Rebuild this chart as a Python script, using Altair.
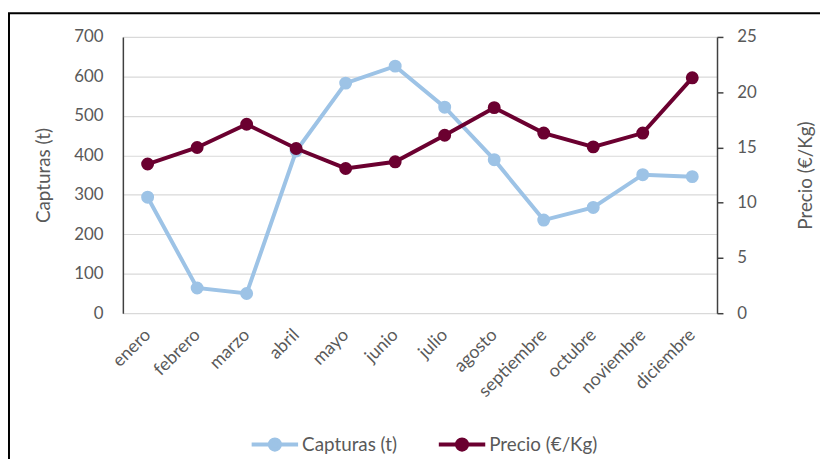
import altair as alt
import pandas as pd

meses = ["enero", "febrero", "marzo", "abril", "mayo", "junio", "julio",
         "agosto", "septiembre", "octubre", "noviembre", "diciembre"]
capturas = [294, 64, 50, 411, 583, 626, 522, 389, 236, 268, 351, 346]
precio = [13.5, 15.0, 17.1, 14.9, 13.1, 13.7, 16.1, 18.6, 16.3, 15.05, 16.3, 21.3]
series = ["Capturas (t)", "Precio (€/Kg)"]
colores = ["#9DC3E6", "#6B0030"]
ticks_izq = [0, 100, 200, 300, 400, 500, 600, 700]
ticks_der = [0, 5, 10, 15, 20, 25]

df_c = pd.DataFrame({"mes": meses, "valor": capturas, "serie": series[0]})
df_p = pd.DataFrame({"mes": meses, "valor": precio, "serie": series[1]})
df_b = pd.DataFrame({"k": [0]})

FONT = "Lato"
GRAY = "#595959"

color = alt.Color("serie:N", scale=alt.Scale(domain=series, range=colores),
                  legend=alt.Legend(
                      title=None, orient="none", direction="horizontal",
                      legendX=128, legendY=386,
                      symbolType="M-1,0L1,0M0.22,0A0.22,0.22 0 1,1 -0.22,0A0.22,0.22 0 1,1 0.22,0Z",
                      symbolSize=2200, symbolStrokeWidth=4, symbolOpacity=1,
                      labelFontSize=19, labelFont=FONT, labelColor=GRAY,
                      labelOffset=2, columnPadding=34))

x = alt.X("mes:N", sort=meses, title=None,
          axis=alt.Axis(labelAngle=315, labelAlign="right", labelBaseline="middle",
                        labelFontSize=18, labelFont=FONT,
                        labelColor=GRAY, domain=False, ticks=False, grid=False,
                        labelPadding=19))

border = alt.Chart(df_b).mark_rect(fill=None, stroke="#000000", strokeWidth=2,
                                   clip=False).encode(
    x=alt.value(-115), x2=alt.value(760), y=alt.value(-24), y2=alt.value(600))

line_c = alt.Chart(df_c).mark_line(
    strokeWidth=4,
    point=alt.OverlayMarkDef(filled=True, size=170, opacity=1)).encode(
    x=x,
    y=alt.Y("valor:Q", title="Capturas (t)",
            scale=alt.Scale(domain=[0, 700], nice=False),
            axis=alt.Axis(values=ticks_izq, grid=True, gridColor="#D9D9D9",
                          gridWidth=1.2, domain=True, domainColor="#404040",
                          domainWidth=1.5, ticks=False, labelPadding=20,
                          labelFontSize=17, labelFont=FONT, labelColor=GRAY,
                          titleFontSize=19, titleFont=FONT, titleColor=GRAY,
                          titleFontWeight="normal", titlePadding=21)),
    color=color)

line_p = alt.Chart(df_p).mark_line(
    strokeWidth=4,
    point=alt.OverlayMarkDef(filled=True, size=170, opacity=1)).encode(
    x=x,
    y=alt.Y("valor:Q", title="Precio (€/Kg)",
            scale=alt.Scale(domain=[0, 25], nice=False),
            axis=alt.Axis(orient="right", values=ticks_der, grid=False,
                          domain=True, domainColor="#404040", domainWidth=1.5,
                          ticks=True, tickColor="#404040", tickWidth=1.5,
                          tickSize=6, labelPadding=14,
                          labelFontSize=17, labelFont=FONT, labelColor=GRAY,
                          titleFontSize=19, titleFont=FONT, titleColor=GRAY,
                          titleFontWeight="normal", titleAngle=270,
                          titlePadding=60)),
    color=color)

chart = alt.layer(border, line_c, line_p).resolve_scale(y="independent").properties(
    width=600, height=279,
    autosize=alt.AutoSizeParams(type="none"),
    padding={"left": 116, "top": 27, "right": 104, "bottom": 145},
    background="white",
).configure_view(strokeWidth=0)

chart.save("out.html", embed_options={"renderer": "svg", "actions": False})
